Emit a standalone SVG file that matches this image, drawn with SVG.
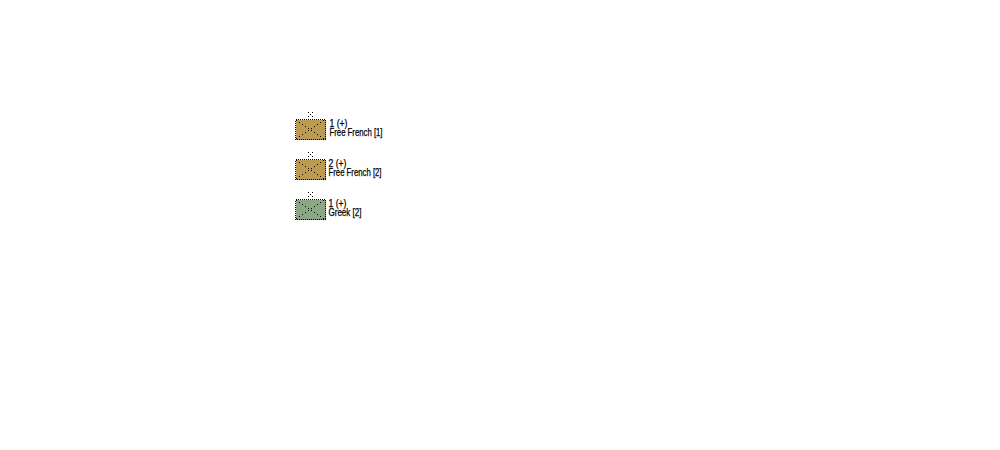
<svg xmlns="http://www.w3.org/2000/svg" width="1000" height="450" viewBox="0 0 1000 450">
  <style>
    .box { stroke: #000; stroke-width: 1; stroke-dasharray: 1 1; shape-rendering: crispEdges; }
    .french { fill: #bc9a50; }
    .greek { fill: #8aa883; }
    .dots { fill: #000; shape-rendering: crispEdges; }
    text { font-family: "Liberation Sans", Arial, sans-serif; font-size: 10px; fill: #000; stroke: #000; stroke-width: 0.25; }
  </style>
  <defs>
    <!-- Infantry unit symbol: dotted diagonals and a dotted size mark above the box -->
    <g id="marks">
      <path class="dots" d="M1 1h1v1h-1zM4 3h1v1h-1zM7 5h1v1h-1zM10 7h1v1h-1zM13 9h1v1h-1zM16 11h1v1h-1zM19 13h1v1h-1zM22 15h1v1h-1zM25 17h1v1h-1zM28 19h1v1h-1z"/>
      <path class="dots" d="M28 1h1v1h-1zM25 3h1v1h-1zM22 5h1v1h-1zM19 7h1v1h-1zM16 9h1v1h-1zM13 11h1v1h-1zM10 13h1v1h-1zM7 15h1v1h-1zM4 17h1v1h-1zM1 19h1v1h-1z"/>
      <path class="dots" d="M13 -7h1v1h-1zM17 -7h1v1h-1zM15 -5h1v1h-1zM13 -3h1v1h-1zM17 -3h1v1h-1z"/>
    </g>
  </defs>
  <rect width="1000" height="450" fill="#fff"/>
  <g id="unit-free-french-1">
    <rect class="box french" x="295.5" y="119.5" width="30" height="20"/>
    <use href="#marks" x="295" y="119"/>
    <text x="329.5" y="127" textLength="18" lengthAdjust="spacingAndGlyphs">1 (+)</text>
    <text x="329.5" y="136" textLength="53" lengthAdjust="spacingAndGlyphs">Free French [1]</text>
  </g>
  <g id="unit-free-french-2">
    <rect class="box french" x="295.5" y="159.5" width="30" height="20"/>
    <use href="#marks" x="295" y="159"/>
    <text x="328.5" y="167" textLength="18" lengthAdjust="spacingAndGlyphs">2 (+)</text>
    <text x="328.5" y="176" textLength="53" lengthAdjust="spacingAndGlyphs">Free French [2]</text>
  </g>
  <g id="unit-greek-2">
    <rect class="box greek" x="295.5" y="199.5" width="30" height="20"/>
    <use href="#marks" x="295" y="199"/>
    <text x="328.5" y="207" textLength="18" lengthAdjust="spacingAndGlyphs">1 (+)</text>
    <text x="328.5" y="216" textLength="33" lengthAdjust="spacingAndGlyphs">Greek [2]</text>
  </g>
</svg>
